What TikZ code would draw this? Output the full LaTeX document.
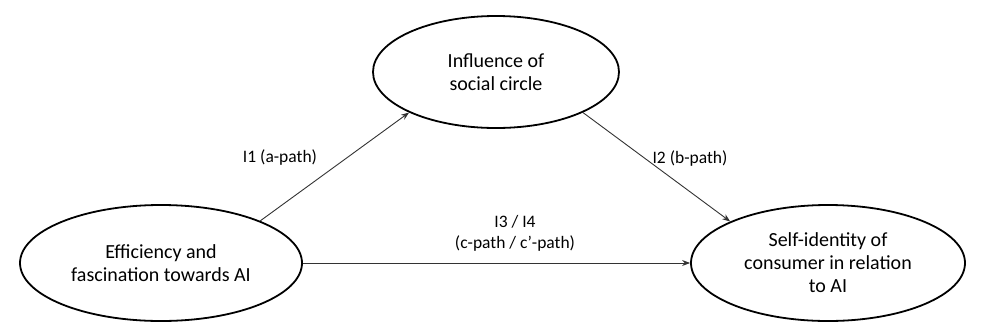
\documentclass[tikz,border=0pt]{standalone}
\usepackage{fontspec}
\setmainfont{Carlito}
\usetikzlibrary{shapes.geometric,arrows.meta}
\begin{document}
\begin{tikzpicture}[x=1pt,y=-1pt,
  construct/.style={draw=black,line width=1.8pt,ellipse,inner sep=0pt,align=center,
    font=\fontsize{20}{23}\selectfont},
  pathlabel/.style={align=center,font=\fontsize{17.5}{21}\selectfont},
  conn/.style={draw=black!80,line width=0.9pt,-{Stealth[length=8pt,width=6pt]}}]
\useasboundingbox (0,0) rectangle (997,333);
\node[construct,minimum width=246pt,minimum height=112pt] (inf) at (496,72) {Influence of\\social circle};
\node[construct,minimum width=282pt,minimum height=116pt] (eff) at (161,263) {Efficiency and\\fascination towards AI};
\node[construct,minimum width=274pt,minimum height=116pt] (self) at (828,263) {Self-identity of\\consumer in relation\\to AI};
\draw[conn] (eff.23) -- (inf.205);
\draw[conn] (inf.-25) -- (self.157);
\draw[conn] (eff.east) -- (self.west);
\node[pathlabel] (l1) at (280,158) {I1 (a-path)};
\node[pathlabel] (l2) at (690,159) {I2 (b-path)};
\node[pathlabel] (l3) at (515,233) {I3 / I4\\(c-path / c’-path)};
\end{tikzpicture}
\end{document}
